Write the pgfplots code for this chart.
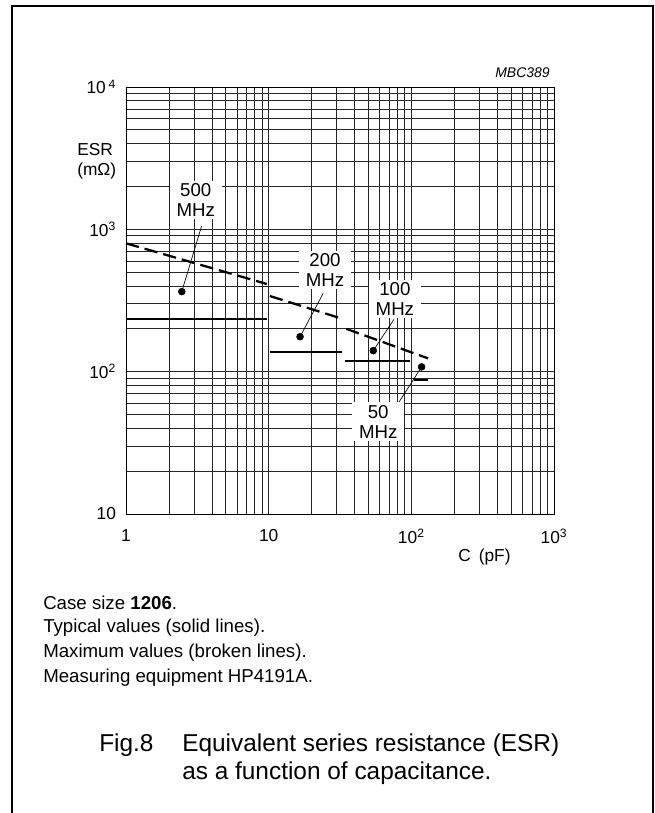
\documentclass[border=0pt]{standalone}
\usepackage{fontspec}
\setmainfont{Liberation Sans}
\usepackage{pgfplots}
\pgfplotsset{compat=1.18}

\newcommand{\chartfont}{\fontsize{13}{15}\selectfont}
\newcommand{\labelfont}{\fontsize{14}{15}\selectfont}

\begin{document}
\begin{tikzpicture}[x=0.75pt,y=-0.75pt]
\path[use as bounding box] (0,0) rectangle (654,813);
% outer frame, open at the bottom
\draw[line width=1.1pt] (12,813) -- (12,6) -- (653,6) -- (653,813);

\begin{axis}[
  at={(94.5pt,-385.5pt)}, anchor=south west,
  scale only axis, width=321pt, height=320.25pt,
  xmode=log, ymode=log,
  xmin=1, xmax=1000, ymin=10, ymax=10000,
  xtick={1,10,100,1000},
  ytick={10,100,1000,10000},
  xticklabels={1,10,10\textsuperscript{2},10\textsuperscript{3}},
  yticklabels={10,10\textsuperscript{2},10\textsuperscript{3},10\hspace{2pt}\textsuperscript{4}},
  xticklabel style={font=\chartfont, yshift=-8pt},
  yticklabel style={font=\chartfont, xshift=-4pt},
  major tick length=0pt, minor tick length=0pt,
  grid=both,
  major grid style={black!85, line width=0.55pt},
  minor grid style={black!85, line width=0.55pt},
  axis line style={black, line width=0.7pt},
  clip=false,
]
% maximum values (broken lines)
\addplot[black, line width=1.7pt, dash pattern=on 10pt off 4.5pt] coordinates {(1,798) (9.7,413)};
\addplot[black, line width=1.7pt, dash pattern=on 10pt off 4.5pt] coordinates {(10.2,340) (32,237)};
\addplot[black, line width=1.7pt, dash pattern=on 10pt off 4.5pt] coordinates {(35,200) (131,124)};
% typical values (solid lines)
\addplot[black, line width=1.7pt] coordinates {(1,234) (9.7,234)};
\addplot[black, line width=1.7pt] coordinates {(10.2,137) (32.5,137)};
\addplot[black, line width=1.7pt] coordinates {(34.3,119) (97.8,119)};
\addplot[black, line width=1.7pt] coordinates {(105,87.4) (130,87.4)};
% leaders from the frequency labels
\addplot[black, line width=0.5pt] coordinates {(2.46,365) (3.39,1057)};
\addplot[black, line width=0.5pt] coordinates {(16.6,176) (24.1,355)};
\addplot[black, line width=0.5pt] coordinates {(54.1,140.6) (75.5,233)};
\addplot[black, line width=0.5pt] coordinates {(118,108) (75.5,53.8)};
% marker dots
\addplot[only marks, mark=*, mark size=2.6pt, black] coordinates {(2.46,365) (16.6,176) (54.1,140.6) (118,108)};
% frequency labels
\tikzset{flabel/.style={fill=white, inner xsep=5pt, inner ysep=2pt, align=center, font=\labelfont}}
\node[flabel] at (axis cs:3.08,1610) {500\\MHz};
\node[flabel] at (axis cs:24.8,519) {200\\MHz};
\node[flabel] at (axis cs:76.7,324) {100\\MHz};
\node[flabel] at (axis cs:58.6,44.6) {50\\MHz};
\end{axis}

% axis titles and figure code
\node[anchor=north west, align=left, font=\chartfont, inner sep=0pt] at (77,143) {ESR\\(mΩ)};
\node[anchor=west, font=\chartfont, inner sep=0pt] at (458,557) {C\hspace{6pt}(pF)};
\node[anchor=east, font=\fontsize{10.5}{12}\selectfont\itshape, inner sep=0pt] at (550,73) {MBC389};

% notes
\begin{scope}[every node/.style={anchor=west, inner sep=0pt, font=\fontsize{14}{15}\selectfont}]
\node at (43,603) {Case size \textbf{1206}.};
\node at (43,628) {Typical values (solid lines).};
\node at (43,653) {Maximum values (broken lines).};
\node at (43,678) {Measuring equipment HP4191A.};
\end{scope}

% caption
\begin{scope}[every node/.style={anchor=west, inner sep=0pt, font=\fontsize{18.3}{20}\selectfont}]
\node at (99,745) {Fig.8};
\node at (182,745) {Equivalent series resistance (ESR)};
\node at (182,773) {as a function of capacitance.};
\end{scope}
\end{tikzpicture}
\end{document}
